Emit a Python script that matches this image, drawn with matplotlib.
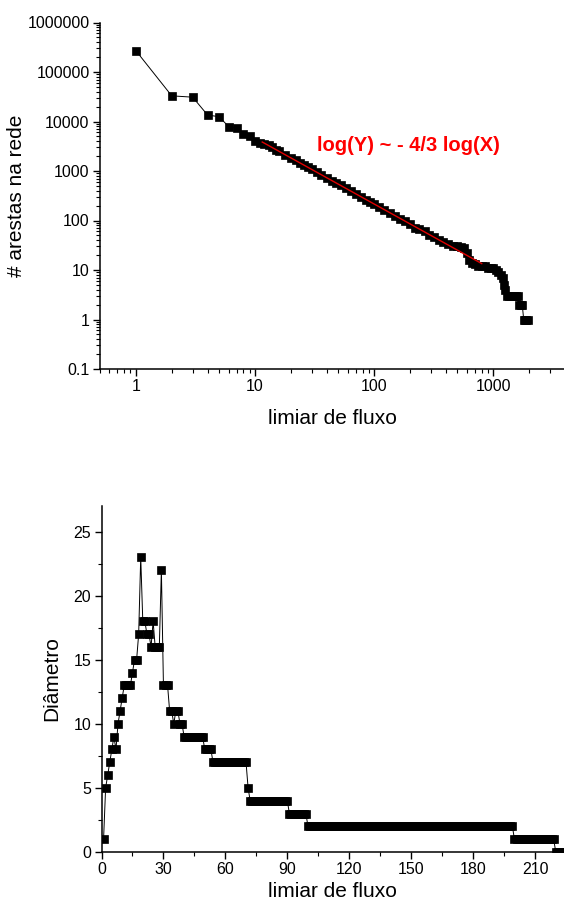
import numpy as np
import matplotlib
matplotlib.use("Agg")
import matplotlib.pyplot as plt
from matplotlib.ticker import FixedLocator, FixedFormatter, LogLocator, MultipleLocator, NullFormatter

plt.rcParams['font.family'] = ['Liberation Sans', 'DejaVu Sans']

# grafico de cima: arestas restantes na rede vs limiar de fluxo
limiar = [1, 2, 3, 4, 5, 6, 7, 8, 9, 10, 11,
          12, 13, 14, 15, 16, 18, 20, 22, 24, 26, 28, 30,
          33, 36, 40, 44, 48, 53, 58, 64, 70, 77, 85, 93, 100,
          110, 120, 135, 150, 165, 180, 200, 220, 240, 265, 290, 320, 350, 380,
          420, 460, 500, 540, 570, 600, 630, 660, 700, 750, 800,
          850, 900, 950, 1000, 1050, 1100, 1150, 1200, 1230, 1260,
          1300, 1350, 1400, 1450, 1500, 1550, 1600,
          1650, 1700, 1750, 1800, 1850, 1900, 1950]
arestas = [270000, 33000, 31000, 13500, 12500, 7900, 7300, 5500, 5100, 4100, 3750,
           3500, 3300, 3000, 2700, 2500, 2150, 1850, 1650, 1450, 1300, 1180, 1080,
           950, 830, 720, 640, 580, 510, 450, 395, 345, 300, 262, 232, 212,
           188, 165, 140, 122, 106, 96, 84, 72, 66, 60, 52, 46, 41, 37,
           33, 31, 30, 29, 28, 22, 16, 14, 13, 12, 12,
           12, 11, 11, 11, 10, 9, 8, 7, 5, 4,
           3, 3, 3, 3, 3, 3, 3,
           2, 2, 2, 1, 1, 1, 1]

# ajuste log(Y) ~ -4/3 log(X)
fit_x = np.array([11.5, 800])
fit_coef = 1e5
fit_exp = -4 / 3

y_ticks = [0.1, 1, 10, 100, 1000, 10000, 100000, 1000000]
y_labels = ['0.1', '1', '10', '100', '1000', '10000', '100000', '1000000']
x_ticks = [1, 10, 100, 1000]
x_labels = ['1', '10', '100', '1000']

# grafico de baixo: diametro vs limiar (valor, quantos limiares seguidos)
diam_valores = [1, 5, 6, 7, 8, 9, 8, 10, 11, 12, 13, 14, 15, 17, 23,
                18, 17, 16, 18, 16, 22, 13, 11, 10, 11, 10, 9, 8, 7, 5,
                4, 3, 2, 1, 0]
diam_repete = [1, 1, 1, 1, 1, 1, 1, 1, 1, 1, 4, 1, 2, 1, 1,
               2, 2, 1, 1, 3, 1, 3, 2, 1, 2, 2, 10, 4, 17, 1,
               19, 9, 100, 20, 7]
diametro = np.repeat(diam_valores, diam_repete)
limiar2 = np.arange(1, len(diametro) + 1)

W, H = 564, 909
fig = plt.figure(figsize=(W / 100, H / 100), dpi=100)

# ---- top ----
ax1 = fig.add_axes([100 / W, 1 - 369 / H, 465 / W, 346.5 / H])
ax1.plot(limiar, arestas, '-s', color='black', lw=0.7, ms=5.8, mec='black', mfc='black', mew=0.5)
ax1.plot(fit_x, fit_coef * fit_x ** fit_exp, color='#e00000', lw=1.0, zorder=3)
ax1.set_xscale('log')
ax1.set_yscale('log')
ax1.set_xlim(0.5, 4000)
ax1.set_ylim(0.1, 1e6)
ax1.yaxis.set_major_locator(FixedLocator(y_ticks))
ax1.yaxis.set_major_formatter(FixedFormatter(y_labels))
ax1.yaxis.set_minor_locator(LogLocator(base=10, subs=np.arange(2, 10), numticks=20))
ax1.yaxis.set_minor_formatter(NullFormatter())
ax1.xaxis.set_major_locator(FixedLocator(x_ticks))
ax1.xaxis.set_major_formatter(FixedFormatter(x_labels))
ax1.xaxis.set_minor_locator(LogLocator(base=10, subs=np.arange(2, 10), numticks=20))
ax1.xaxis.set_minor_formatter(NullFormatter())
ax1.text(33, 10 ** 3.52, 'log(Y) ~ - 4/3 log(X)', color='red', fontsize=14.5,
         fontweight='bold', ha='left', va='center')
ax1.set_xlabel('limiar de fluxo', fontsize=15)
ax1.set_ylabel('# arestas na rede', fontsize=15)
ax1.xaxis.set_label_coords(0.5, -0.115)
ax1.yaxis.set_label_coords(-0.16, 0.5)

# ---- bottom ----
ax2 = fig.add_axes([101.5 / W, 1 - 852 / H, 462.5 / W, 346 / H])
ax2.plot(limiar2, diametro, '-s', color='black', lw=0.7, ms=5.2, mec='black', mfc='black', mew=0.5)
ax2.set_xlim(0, 224)
ax2.set_ylim(0, 27)
ax2.xaxis.set_major_locator(MultipleLocator(30))
ax2.xaxis.set_minor_locator(MultipleLocator(15))
ax2.yaxis.set_major_locator(MultipleLocator(5))
ax2.yaxis.set_minor_locator(MultipleLocator(2.5))
ax2.set_xlabel('limiar de fluxo', fontsize=15)
ax2.set_ylabel('Diâmetro', fontsize=15)
ax2.xaxis.set_label_coords(0.5, -0.088)
ax2.yaxis.set_label_coords(-0.088, 0.5)

for ax in (ax1, ax2):
    ax.spines['top'].set_visible(False)
    ax.spines['right'].set_visible(False)
    ax.spines['left'].set_linewidth(1.1)
    ax.spines['bottom'].set_linewidth(1.1)
    ax.tick_params(which='major', direction='out', length=5, width=1, labelsize=11.5, pad=2.5)
    ax.tick_params(which='minor', direction='out', length=3, width=0.8)

fig.savefig('out.png', dpi=100)
